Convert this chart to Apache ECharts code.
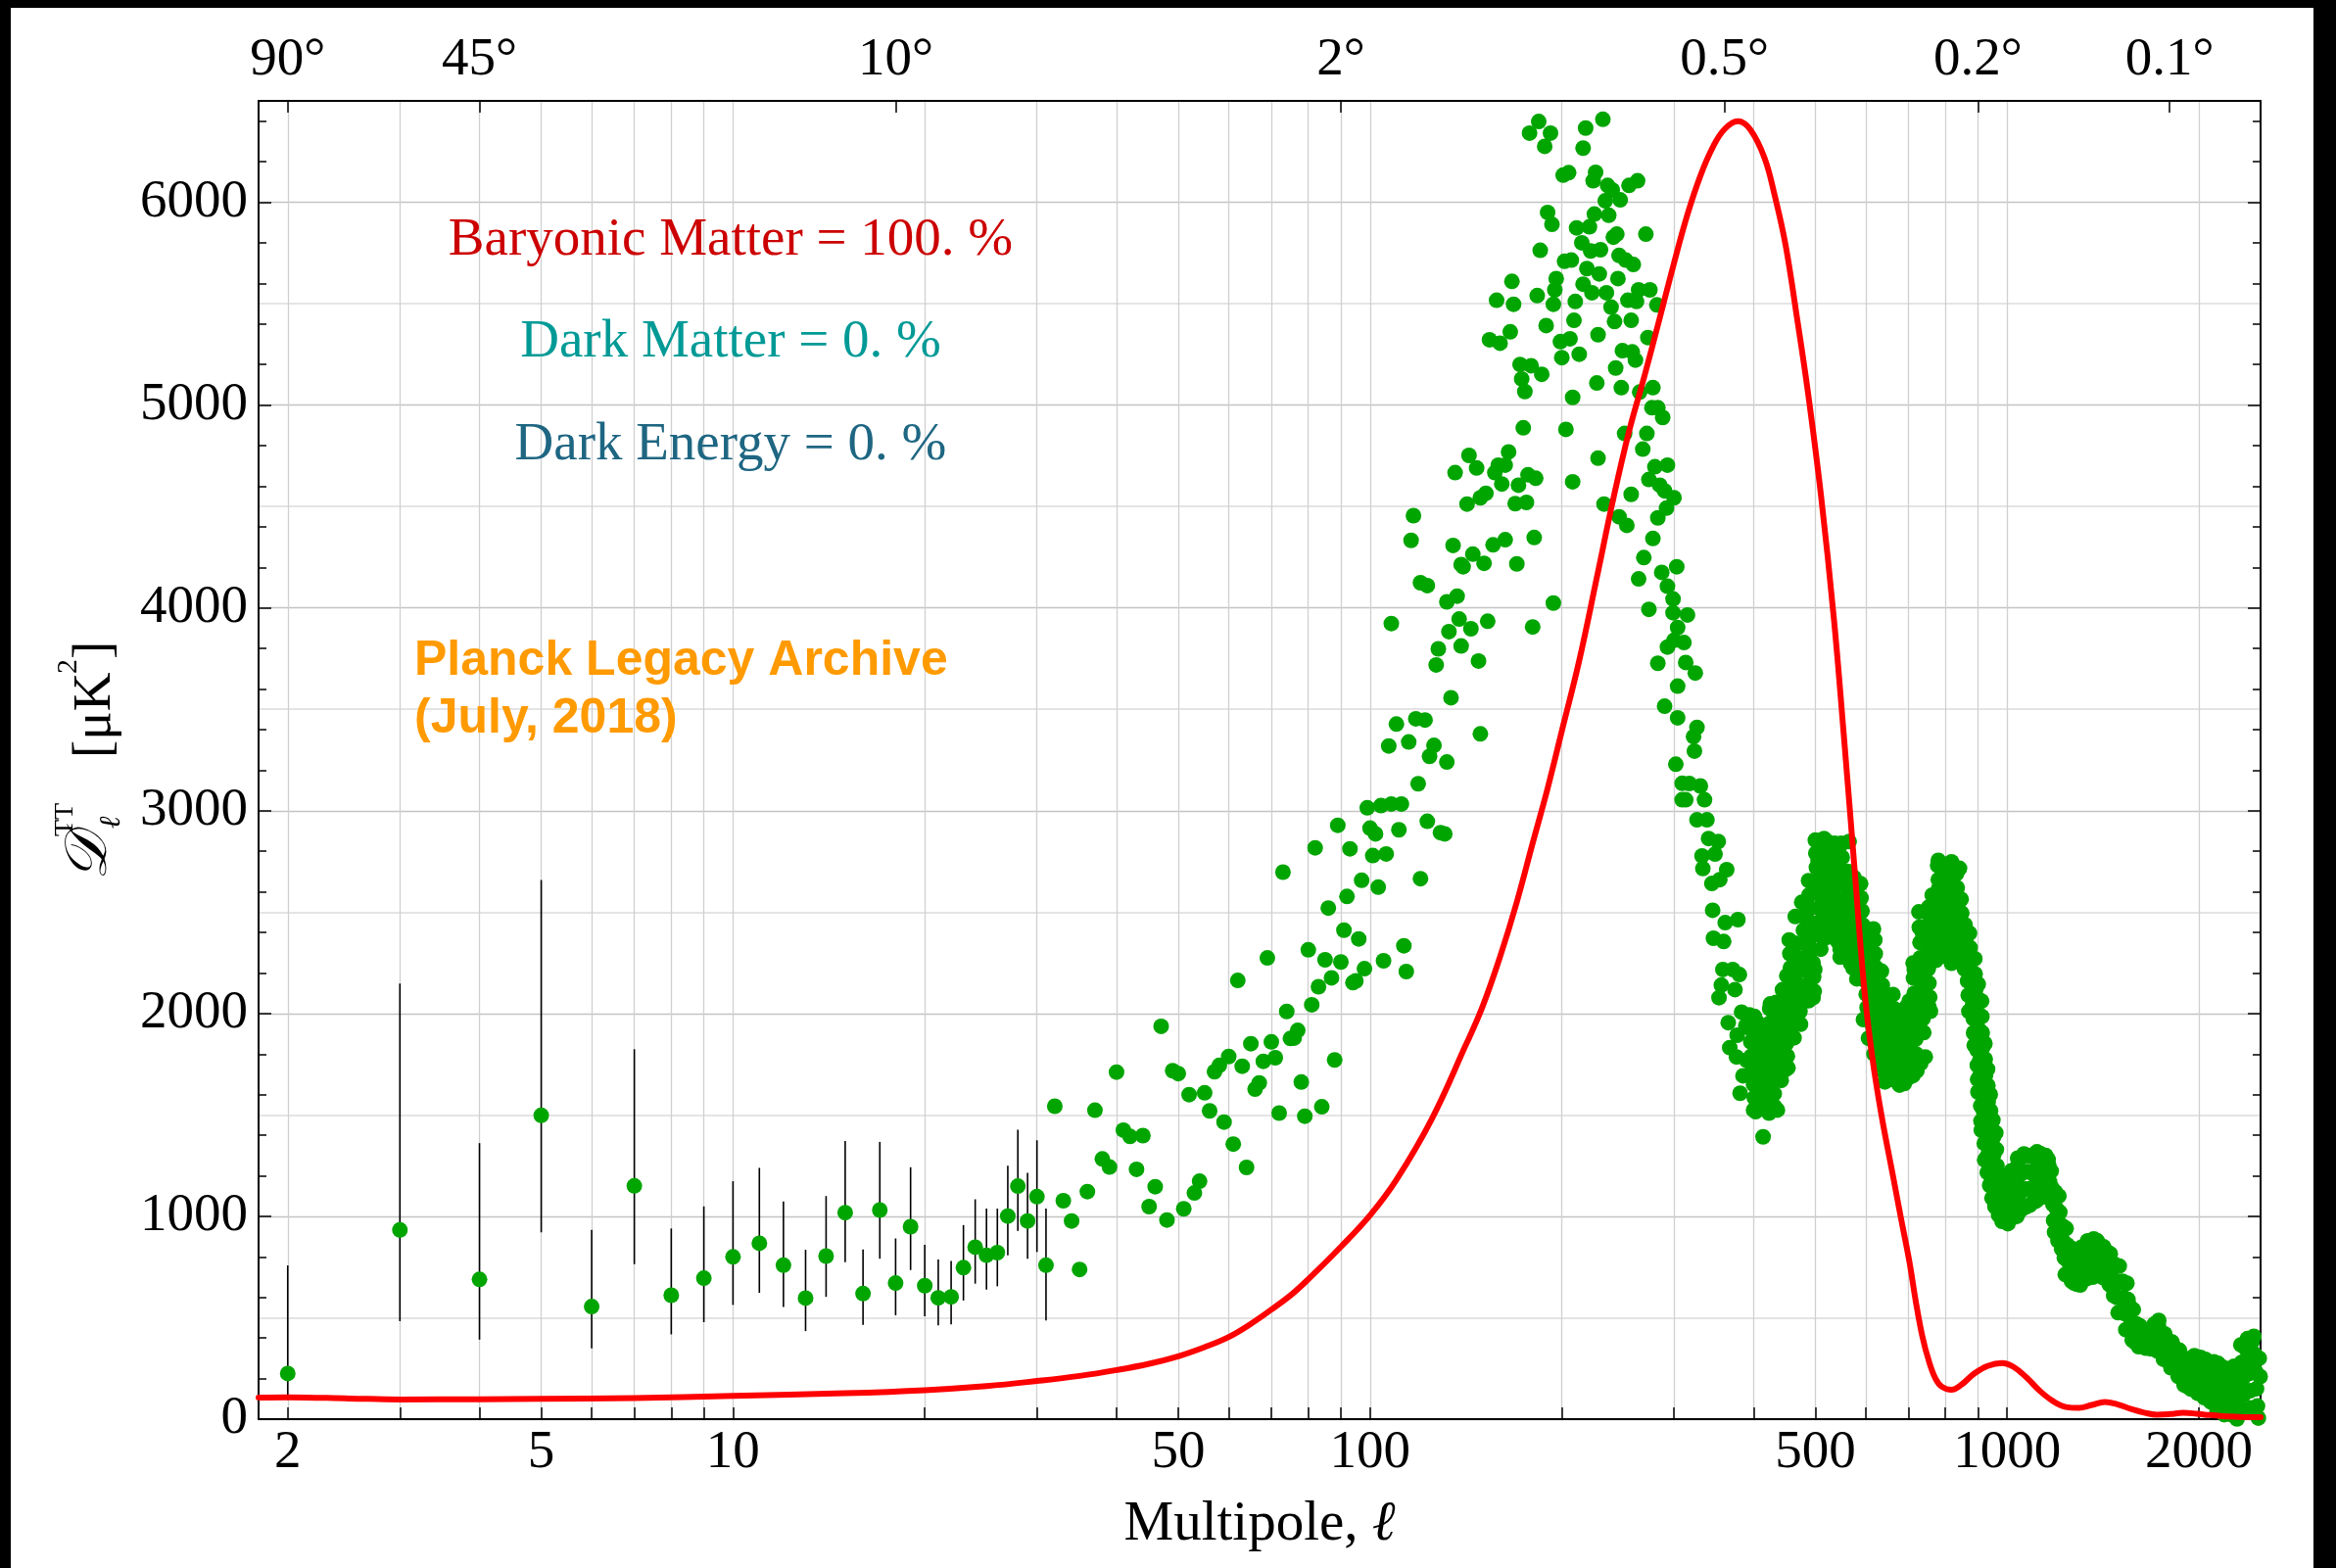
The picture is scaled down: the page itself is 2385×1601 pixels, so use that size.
<!DOCTYPE html>
<html><head><meta charset="utf-8">
<script src="https://cdn.jsdelivr.net/npm/echarts@6/dist/echarts.min.js"></script>
<style>html,body{margin:0;padding:0;background:#fff}#c{width:2385px;height:1601px}</style>
</head><body><div id="c"></div>
<script>
// ---------- axes ----------
const xTickValues = [2,3,4,5,6,7,8,9,10,20,30,40,50,60,70,80,90,100,200,300,400,500,600,700,800,900,1000,2000];
const xLabelValues = [2,5,10,50,100,500,1000,2000];
const topTickValues = [2,4,18,90,360,900,1800];
const topTickLabels = ['90°','45°','10°','2°','0.5°','0.2°','0.1°'];
const yMajorTicks = [0,1000,2000,3000,4000,5000,6000];
const yMinorTicks = [200,400,600,800,1200,1400,1600,1800,2200,2400,2600,2800,3200,3400,3600,3800,4200,4400,4600,4800,5200,5400,5600,5800,6200,6400];
const yHalfGrid = [500,1500,2500,3500,4500,5500];

// ---------- low-ell points with error bars ----------
const lowEll = [2,3,4,5,6,7,8,9,10,11,12,13,14,15,16,17,18,19,20,21,22,23,24,25,26,27,28,29,30,31];
const lowVal = [225,933,689,1498,555,1150,611,695,800,867,759,597,804,1018,619,1031,671,949,658,598,603,747,848,808,821,1001,1149,977,1097,759];
const lowLo  = [94,483,392,921,349,764,418,478,563,623,553,434,603,774,465,791,512,735,507,462,467,585,668,639,655,808,928,791,824,486];
const lowHi  = [758,2148,1361,2658,933,1824,940,1049,1173,1239,1073,835,1100,1371,837,1367,891,1242,859,787,780,957,1084,1038,1038,1250,1427,1215,1375,1038];

// ---------- Planck points (ell, D_ell) ----------
const planckMid = [
[32,1543],[33,1077],[34,977],[35,738],[36,1122],[37,1523],[38,1283],[39,1243],[40,1711],[41,1425],[42,1394],[43,1232],[44,1398],[45,1048],[46,1146],[47,1937],[48,982],[49,1718],[50,1704],[51,1037],[52,1600],[53,1115],[54,1173],[55,1609],[56,1520],[57,1713],[58,1744],[59,1465],[60,1788],[61,1356],[62,2163],[63,1740],[64,1241],[65,1851],[66,1627],[67,1658],[68,1764],[69,2274],[70,1860],[71,1782],[72,1509],[73,2697],[74,2010],[75,1877],[76,1879],[77,1917],[78,1662],[79,1494],[80,2314],[81,2043],[82,2817],[83,2132],[84,1540],[85,2265],[86,2520],[87,2176],[88,1771],[89,2928],[90,2254],[91,2411],[92,2577],[93,2812],[94,2152],
[95,2161],[96,2368],[97,2657],[98,2221],[99,3014],[100,2914],[101,2779],[102,2886],[103,2623],[104,3025],[105,2260],[106,2787],[107,3319],[108,3923],[108,3033],[110,3427],[111,2906],[112,3033],[113,2334],[114,2207],[115,3339],[116,4333],[117,4455],[118,3453],[119,3133],[120,4124],[120,2665],[122,3447],[123,4110],[123,2948],[124,3268],[126,3322],[127,3719],[128,3798],[129,2892],[131,2886],[132,4030],[132,3240],[133,3883],[134,3557],[135,4308],[136,4667],[137,4058],[138,3945],[139,4214],[139,3812],[140,4203],[142,4512],[143,4752],[144,3897],[145,4265],[147,4690],[148,3738],[149,4543],[149,3379],[151,4220],[152,4565],[153,3934],[154,5322],[156,4311],[157,4667],[158,5517],[159,4704],[160,5305],[161,4611],[163,4704],[163,4336],[165,4769],[166,5361],[167,5610],[168,5497],[169,4514],[170,4217],[171,4605],[172,5200],[173,5129],[174,4888],[175,5067],[176,4520],[177,4656],[178,6341],[179,5194],[180,3906],[181,4347],[182,4639],[183,5540],[184,6398],[185,5763],[186,5152],[188,6276],[189,5392],[190,5950],[192,6341],[193,5891],[194,5497],[194,4024],[195,5568],[196,5624],[199,5313],[200,5234],[201,6134],[202,5709],[203,4880],[205,6146],[206,5327],[207,5715],[208,5038],[208,4622],[209,5418],[210,5511],[211,5874],[213,5251],[215,5800],[216,6267],[216,5596],[218,6366],[219,5673],[221,5879],[222,5760],[223,5554],[224,6106],[225,5942],[226,6148],[227,5109],[228,5347],[228,4738],[229,5647],[230,5766],[232,6409],[233,4512],[234,6007],[235,5554],[236,6083],[237,5936],[239,5483],[240,6061],[241,5828],[242,5412],[243,5183],[244,5843],[245,5624],[246,5738],[246,4449],[247,6012],[248,5086],[249,5268],[251,4860],[252,5715],[253,4407],[254,5517],[255,6083],[257,5418],[257,4560],[258,5262],[259,5693],[261,5222],[262,5511],[263,6106],[264,5568],[264,4143],[265,5064],[268,4783],[269,4248],[271,5843],[272,4860],[273,5333],[274,4633],[274,3993],[275,5568],[277,4987],[278,5086],[278,4342],[280,4696],[282,5494],[283,4987],[283,4444],[283,3727],[285,4605],[287,4175],[288,4939],[290,4577],[290,3515],[292,4492],[293,4704],[293,4107],[293,3807],[299,4044],[299,3976],[300,4543],[300,3840],[302,3229],[303,4203],[304,3614],[304,3458],[304,3903],
[309,3054],[309,3135],[311,3829],[313,3731],[313,3054],[315,3965],[317,3134],[322,3365],[323,3294],[324,3679],[326,3411],[326,2955],[330,3122],[332,2777],[333,2715],[335,3054],[338,2955],[340,2863],[344,2641],[345,2509],[346,2371],[348,2786],[352,2848],[353,2078],[354,2660],[356,2140],[358,2217],[359,2355],[361,2448],[363,2709],[365,1955],[367,1832],[371,2217],[374,2118],[376,1786],[377,1893],[378,2463],[380,2192],[381,1607],[383,2007],[385,1693],[389,1940],[390,1770],[396,1786],[400,1524],[401,1986],[403,1693],[406,1663],[411,1893],[413,1817],[414,1392],[420,1632],[423,1509],[425,2047],[433,1955],[434,1724],[436,1524],[438,1847],[443,2047],[449,1724],[454,1909],
[451,2186],[462,2324],[465,2478],[470,2263],[483,2555],[487,2217],[488,2063],[493,2432],[496,2078],[499,2217],[500,2648],[505,2755],[511,2617],[516,2863],[520,2417],[522,2848],[523,2555],[535,2817],[536,2463],[542,2355],[547,2278],[548,2832],[549,2648],[555,2524],[563,2478],[564,2694],[565,2848],[568,2248],[576,2617],[581,2171],[582,2401],[588,2509],[617,2417],
[595,1970],[606,1878],[610,2094],[616,2248],[618,1801],[624,2186],[631,2063],[632,1724],[642,1786],[643,1663],[647,1940],[662,2094],[663,1878],[677,2001],[678,1647],[686,1786],[694,1693],[695,2032],
[711,1693],[715,2217],[727,2063],[732,1755],[736,2401],[744,1786],[745,2248],[753,2524],[754,2032],[763,2401],[780,2755],[781,2617],[790,2340],[799,2494],[818,2248],[819,2740],[828,2555],[838,2309],[781,2748],[818,2748],[842,2716],[1730,487]
];

// dense part of the spectrum (filled band), read column by column
const planckBand = [
[394,1993],[395,1925],[396,1860],[397,1790],[398,1720],[400,1650],[401,1585],[403,1516],
[404,1963],[405,1895],[406,1830],[408,1760],[409,1690],[410,1620],[412,1547],
[414,1940],[415,1875],[416,1805],[418,1735],[419,1665],[420,1595],[422,1530],
[424,2024],[425,1955],[427,1885],[428,1815],[429,1745],[430,1675],[431,1605],[432,1540],
[434,2055],[435,1985],[437,1920],[438,1850],[440,1780],[441,1710],[442,1670],
[444,2117],[446,2050],[447,1985],[449,1915],[450,1850],[452,1790],[453,1732],
[455,2363],[456,2295],[457,2225],[459,2160],[460,2090],[461,2020],[462,1950],[463,1880],
[465,2347],[467,2280],[468,2210],[470,2145],[471,2080],[473,2010],[474,1947],
[476,2548],[478,2480],[479,2410],[481,2345],[482,2275],[484,2210],[485,2140],[487,2070],
[488,2655],[489,2585],[491,2520],[492,2450],[494,2385],[495,2315],[496,2250],[497,2180],[498,2110],
[500,2855],[501,2790],[502,2720],[504,2655],[505,2590],[506,2520],[507,2450],[509,2385],[510,2317],
[512,2855],[513,2785],[514,2720],[516,2650],[517,2580],[518,2510],[520,2445],[521,2375],
[523,2825],[525,2760],[526,2690],[528,2620],[529,2555],[531,2485],[532,2420],[534,2378],
[536,2840],[537,2770],[539,2700],[540,2635],[542,2565],[543,2500],[545,2430],[546,2360],[547,2317],
[549,2840],[551,2770],[552,2705],[554,2635],[555,2565],[557,2500],[558,2430],[560,2360],[561,2290],
[562,2701],[564,2630],[565,2565],[567,2495],[568,2430],[570,2360],[571,2290],[573,2224],
[575,2671],[577,2600],[578,2530],[580,2465],[582,2395],[583,2325],[585,2260],[586,2190],
[589,2640],[590,2570],[592,2505],[594,2435],[595,2365],[597,2300],[598,2230],[600,2160],[601,2095],[603,2030],[604,1978],
[606,2409],[607,2340],[609,2270],[610,2205],[612,2135],[613,2065],[615,2000],[616,1930],[618,1860],
[620,2363],[621,2295],[623,2225],[625,2160],[626,2090],[628,2020],[629,1955],[631,1885],[632,1815],[633,1763],
[635,2209],[637,2140],[638,2070],[640,2005],[642,1935],[643,1865],[645,1800],[646,1730],[648,1686],
[650,2086],[652,2015],[654,1950],[655,1880],[657,1810],[659,1745],[660,1675],
[665,2024],[667,1955],[669,1890],[671,1820],[672,1750],[674,1685],[676,1655],
[680,1993],[682,1925],[684,1855],[686,1790],[688,1720],[690,1655],
[693,2010],[695,1940],[697,1870],[699,1800],[700,1730],[698,1680],
[702,2061],[703,1990],[704,1920],[705,1850],[706,1780],[708,1697],
[712,2249],[713,2175],[715,2100],[716,2025],[717,1950],[719,1875],[720,1800],[722,1718],
[727,2501],[728,2425],[730,2350],[731,2275],[733,2200],[734,2125],[736,2050],[738,1975],[740,1906],
[745,2501],[747,2430],[749,2360],[750,2290],[752,2220],[754,2150],[756,2080],[758,2011],
[763,2584],[765,2510],[767,2440],[769,2370],[771,2300],[773,2262],
[778,2731],[780,2660],[782,2590],
[785,2563],[787,2495],[789,2425],[791,2355],[793,2283],
[796,2540],[798,2470],[800,2400],[802,2330],[804,2290],
[806,2710],[808,2640],[810,2570],[812,2500],[814,2430],[816,2360],[818,2290],
[819,2700],[821,2630],[823,2560],[825,2490],[827,2420],[829,2350],[831,2290],
[833,2689],[835,2620],[837,2550],[839,2480],[841,2410],[843,2340],[845,2283],
[847,2563],[849,2495],[851,2425],[853,2360],[855,2290],[857,2220],
[859,2438],[861,2370],[863,2300],[865,2230],[867,2160],[869,2090],[871,2011],
[873,2396],[875,2325],[877,2255],[879,2185],[881,2115],[883,2045],[885,1975],[886,1905],[888,1843],
[890,2270],[891,2195],[893,2120],[894,2045],[895,1970],[896,1895],[897,1820],[898,1745],[899,1675],[900,1613],
[901,2145],[902,2070],[903,1995],[904,1920],[905,1845],[906,1770],[907,1695],[908,1620],[909,1545],[910,1470],[911,1425],
[912,2061],[913,1985],[914,1905],[915,1830],[916,1750],[917,1670],[918,1595],[919,1515],[920,1435],[921,1360],[922,1278],
[923,1852],[924,1775],[925,1695],[926,1615],[927,1535],[928,1455],[929,1375],[930,1295],[931,1216],
[932,1726],[933,1645],[934,1565],[935,1485],[936,1400],[937,1320],[938,1240],[939,1153],
[941,1601],[942,1520],[943,1440],[944,1355],[945,1270],[946,1185],[947,1090],
[950,1475],[952,1390],[953,1305],[955,1220],[956,1135],[957,1048],
[960,1412],[962,1330],[964,1250],[966,1170],[968,1090],[970,1006],
[973,1203],[976,1125],[979,1050],[982,975],[985,1180],[988,1100],[991,1020],
[994,1182],[997,1105],[1000,1030],[1003,964],[1006,1200],[1009,1120],[1012,1040],
[1015,1224],[1018,1150],[1021,1075],[1024,996],[1027,1230],[1030,1150],[1033,1070],[1036,1000],
[1039,1287],[1042,1200],[1045,1110],[1048,1027],[1051,1290],[1054,1210],[1057,1130],[1060,1040],
[1063,1308],[1066,1220],[1069,1135],[1072,1048],[1076,1300],[1079,1220],[1082,1135],[1085,1055],
[1088,1297],[1091,1215],[1094,1140],[1097,1069],[1101,1305],[1104,1225],[1107,1150],[1110,1075],
[1114,1318],[1117,1240],[1120,1160],[1123,1090],[1127,1310],[1130,1230],[1133,1150],[1136,1095],
[1140,1297],[1143,1215],[1146,1140],[1150,1300],[1153,1220],[1156,1135],[1160,1280],
[1163,1250],[1166,1170],[1170,1090],[1173,1224],[1176,1140],[1180,1060],[1183,980],[1187,922],
[1191,1119],[1194,1040],[1198,960],[1202,880],[1206,1100],[1210,1020],[1214,940],[1218,839],
[1222,952],[1226,875],[1230,795],[1234,713],[1238,940],[1242,860],[1246,780],[1250,720],
[1254,847],[1258,760],[1262,680],[1266,840],[1270,755],[1274,671],
[1278,826],[1283,745],[1288,665],[1293,820],[1298,740],[1303,661],
[1308,847],[1313,765],[1318,700],[1323,840],[1328,760],[1333,692],
[1338,879],[1343,800],[1348,720],[1353,870],[1358,790],[1363,700],
[1368,889],[1373,805],[1378,725],[1384,880],[1389,800],[1394,713],
[1400,858],[1405,775],[1411,700],[1417,850],[1422,770],[1428,692],
[1434,826],[1440,745],[1446,665],[1452,815],[1458,735],[1464,650],[1470,609],
[1476,763],[1482,680],[1488,600],[1494,525],[1500,755],[1506,675],[1512,595],
[1518,680],[1524,600],[1530,520],[1536,441],[1542,670],[1548,590],[1554,510],
[1560,554],[1566,470],[1572,390],[1578,540],[1584,460],[1590,378],
[1596,470],[1602,400],[1609,357],[1616,460],[1623,390],
[1630,429],[1637,360],[1644,420],[1651,350],
[1658,429],[1665,355],[1672,420],[1680,347],[1688,425],[1696,360],
[1704,470],[1712,395],[1720,336],[1728,460],[1736,380],
[1744,429],[1752,350],[1760,295],[1768,420],[1776,340],[1784,300],
[1792,387],[1800,310],[1808,253],[1816,380],[1824,300],[1832,250],
[1840,345],[1848,270],[1856,211],[1864,340],[1872,260],
[1880,303],[1888,230],[1896,169],[1904,300],[1912,220],[1920,160],
[1928,293],[1936,215],[1944,148],[1952,290],[1960,210],
[1968,313],[1976,235],[1984,160],[1992,127],[2000,305],[2008,225],
[2016,303],[2024,230],[2032,155],[2040,106],[2048,295],[2056,215],
[2064,272],[2072,195],[2080,125],[2088,85],[2096,260],[2104,180],
[2112,282],[2120,205],[2128,125],[2136,43],[2144,275],[2152,190],[2160,110],
[2168,261],[2176,185],[2184,100],[2192,22],[2200,250],[2208,170],[2216,90],
[2224,219],[2232,140],[2240,60],[2248,22],[2256,210],[2264,130],
[2272,261],[2280,180],[2288,100],[2296,1],[2304,250],[2312,170],[2320,60],
[2328,366],[2336,280],[2344,200],[2352,120],[2360,40],[2368,350],[2376,260],
[2384,397],[2392,310],[2400,225],[2408,140],[2416,55],[2424,380],[2432,290],
[2440,408],[2448,320],[2456,235],[2464,150],[2472,65],[2480,5],[2488,300],[2496,210]
];

// ---------- model curve: 100% baryons ----------
const modelCurve = [
[1.8,106],[2,108],[2.5,102],[3,97],[4,98],[5,100],[7,104],[10,115],[15,128],[20,143],[25,163],[30,188],[35,213],[40,242],[45,273],[50,310],[55,355],[60,405],[65,470],[70,540],[75,610],[80,690],[90,850],[100,1005],[110,1180],[125,1480],[141,1837],[150,2030],[160,2280],[170,2550],[180,2840],[190,3110],[201,3420],[213,3740],[227,4150],[241,4540],[255,4870],[270,5150],[285,5430],[300,5700],[315,5940],[330,6130],[345,6270],[360,6360],[378,6400],[395,6360],[416,6220],[432,6030],[449,5790],[468,5430],[487,5060],[511,4540],[535,3940],[555,3350],[576,2720],[596,2140],[614,1790],[635,1500],[662,1200],[682,985],[702,782],[719,580],[736,410],[754,285],[772,200],[790,160],[818,145],[848,170],[889,226],[932,262],[982,276],[1024,257],[1073,205],[1125,140],[1179,90],[1236,60],[1296,55],[1359,70],[1424,85],[1493,72],[1565,50],[1641,32],[1720,22],[1803,25],[1890,31],[1981,27],[2077,20],[2177,15],[2282,12],[2400,10],[2500,10]
];

const SERIF = '"Liberation Serif","Times New Roman",serif';
const chart = echarts.init(document.getElementById('c'), null, {renderer:'canvas'});

const axisLineStyle = {color:'#000', width:2};
const tickLineStyle = {color:'#000', width:1.5};

function topLabel(v){
  for (let i=0;i<topTickValues.length;i++) if (Math.abs(topTickValues[i]-v) < 1e-6*v) return topTickLabels[i];
  return '';
}

const scatterData = lowEll.map((l,i)=>[l,lowVal[i]]).concat(planckMid, planckBand);
const errData = lowEll.map((l,i)=>[l,lowLo[i],lowHi[i]]);

chart.setOption({
  animation:false,
  backgroundColor:'#fff',
  grid:{left:264, right:77, top:103, bottom:152},
  xAxis:[
    {type:'log', logBase:10, min:1.8, max:2500, position:'bottom',
     axisLine:{show:true, onZero:false, lineStyle:axisLineStyle},
     axisTick:{show:true, inside:true, length:12, customValues:xTickValues, lineStyle:tickLineStyle},
     minorTick:{show:false},
     axisLabel:{show:true, customValues:xLabelValues, formatter:v=>String(Math.round(v)), fontFamily:SERIF, fontSize:55, color:'#000', margin:7},
     splitLine:{show:true, lineStyle:{color:'#d0d0d0', width:1.3}},
     name:'Multipole, {i|ℓ}', nameLocation:'middle', nameGap:80,
     nameTextStyle:{fontFamily:SERIF, fontSize:57, color:'#000',
       rich:{i:{fontFamily:SERIF, fontStyle:'italic', fontSize:57, color:'#000'}}}
    },
    {type:'log', logBase:10, min:1.8, max:2500, position:'top',
     axisLine:{show:true, onZero:false, lineStyle:axisLineStyle},
     axisTick:{show:true, inside:true, length:12, customValues:topTickValues, lineStyle:tickLineStyle},
     minorTick:{show:false},
     axisLabel:{show:true, customValues:topTickValues, formatter:topLabel, fontFamily:SERIF, fontSize:55, color:'#000', margin:14},
     splitLine:{show:false}
    }
  ],
  yAxis:[
    {type:'value', min:0, max:6500, position:'left',
     axisLine:{show:true, onZero:false, lineStyle:axisLineStyle},
     axisTick:{show:true, inside:true, length:13, customValues:yMajorTicks, lineStyle:tickLineStyle},
     axisLabel:{show:true, customValues:yMajorTicks, formatter:v=>String(Math.round(v)), fontFamily:SERIF, fontSize:55, color:'#000', margin:11},
     splitLine:{show:true, lineStyle:{color:'#c4c4c4', width:1.3}}
    },
    {type:'value', min:0, max:6500, position:'left',
     axisLine:{show:false},
     axisTick:{show:true, inside:true, length:8, customValues:yMinorTicks, lineStyle:tickLineStyle},
     axisLabel:{show:false}, splitLine:{show:false}
    },
    {type:'value', min:0, max:6500, position:'right',
     axisLine:{show:true, onZero:false, lineStyle:axisLineStyle},
     axisTick:{show:true, inside:true, length:13, customValues:yMajorTicks, lineStyle:tickLineStyle},
     axisLabel:{show:false}, splitLine:{show:false}
    },
    {type:'value', min:0, max:6500, position:'right',
     axisLine:{show:false},
     axisTick:{show:true, inside:true, length:8, customValues:yMinorTicks, lineStyle:tickLineStyle},
     axisLabel:{show:false}, splitLine:{show:false}
    },
    {type:'value', min:0, max:6500, position:'left',
     axisLine:{show:false},
     axisTick:{show:false, customValues:yHalfGrid},
     axisLabel:{show:false},
     splitLine:{show:true, lineStyle:{color:'#e4e4e4', width:2}}
    }
  ],
  series:[
    {type:'custom', xAxisIndex:0, yAxisIndex:0, z:2, data:errData,
     encode:{x:0, y:[1,2]},
     renderItem:(params, api)=>{
       const x = api.value(0);
       const p1 = api.coord([x, api.value(1)]);
       const p2 = api.coord([x, api.value(2)]);
       return {type:'line', shape:{x1:p1[0], y1:p1[1], x2:p2[0], y2:p2[1]}, style:{stroke:'#000', lineWidth:1.6}};
     }
    },
    {type:'scatter', xAxisIndex:0, yAxisIndex:0, z:3, data:scatterData,
     symbol:'circle', symbolSize:16, itemStyle:{color:'#00a500', opacity:1}, large:false},
    {type:'line', xAxisIndex:0, yAxisIndex:0, z:4, data:modelCurve, smooth:0.4,
     showSymbol:false, symbol:'none', lineStyle:{color:'#ff0000', width:6, join:'round', cap:'round'}, clip:true}
  ],
  graphic:[
    {type:'rect', shape:{x:0, y:0, width:2385, height:8}, style:{fill:'#000'}, z:100},
    {type:'rect', shape:{x:0, y:0, width:11, height:1601}, style:{fill:'#000'}, z:100},
    {type:'rect', shape:{x:2362, y:0, width:23, height:1601}, style:{fill:'#000'}, z:100},
    {type:'text', x:746, y:246, z:50, style:{text:'Baryonic Matter = 100. %', font:'55px '+SERIF, fill:'#cc0000', align:'center', verticalAlign:'middle'}},
    {type:'text', x:746, y:350, z:50, style:{text:'Dark Matter = 0. %', font:'55px '+SERIF, fill:'#009a96', align:'center', verticalAlign:'middle'}},
    {type:'text', x:746, y:455, z:50, style:{text:'Dark Energy = 0. %', font:'55px '+SERIF, fill:'#1e6682', align:'center', verticalAlign:'middle'}},
    {type:'text', x:423, y:675, z:50, style:{text:'Planck Legacy Archive', font:'bold 50px "Liberation Sans",Arial,sans-serif', fill:'#ff9a00', align:'left', verticalAlign:'middle'}},
    {type:'text', x:423, y:734, z:50, style:{text:'(July, 2018)', font:'bold 50px "Liberation Sans",Arial,sans-serif', fill:'#ff9a00', align:'left', verticalAlign:'middle'}},
    {type:'group', x:90, y:780, rotation:Math.PI/2, z:50, children:[
      {type:'text', x:-119, y:2, style:{text:'𝒟', font:'italic 60px "DejaVu Serif","DejaVu Sans","Noto Sans",serif', fill:'#000', align:'left', verticalAlign:'middle'}},
      {type:'text', x:-74, y:-23, style:{text:'TT', font:'28px '+SERIF, fill:'#000', align:'left', verticalAlign:'middle'}},
      {type:'text', x:-66, y:24, style:{text:'ℓ', font:'italic 30px '+SERIF, fill:'#000', align:'left', verticalAlign:'middle'}},
      {type:'text', x:6, y:8, style:{text:'[μK', font:'55px '+SERIF, fill:'#000', align:'left', verticalAlign:'middle'}},
      {type:'text', x:92, y:-20, style:{text:'2', font:'30px '+SERIF, fill:'#000', align:'left', verticalAlign:'middle'}},
      {type:'text', x:107, y:8, style:{text:']', font:'55px '+SERIF, fill:'#000', align:'left', verticalAlign:'middle'}}
    ]}
  ]
});
</script></body></html>
